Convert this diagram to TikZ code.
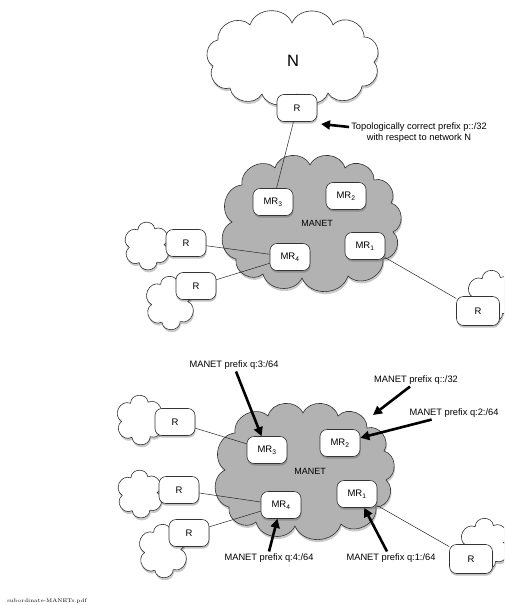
\documentclass[tikz,border=0pt]{standalone}
\usepackage{fontspec}
\newfontfamily\arial{Liberation Sans}
\usetikzlibrary{shadows,arrows.meta,calc}
\tikzset{
  box/.style={draw=black!80, fill=white, rounded corners=7pt, minimum width=40pt, minimum height=27pt, inner sep=0pt,
    font=\arial\fontsize{9.5}{10}\selectfont, line width=0.6pt,
    drop shadow={shadow xshift=0.6pt, shadow yshift=-2.2pt, opacity=0.35, fill=black!70}},
  link/.style={draw=black!85, line width=0.5pt},
  bigarrow/.style={line width=2.6pt, -{Triangle[length=9pt,width=9pt]}},
  anno/.style={font=\arial\fontsize{9.3}{10.5}\selectfont, inner sep=0pt},
  whitecloud/.style={draw=black!80, line width=0.6pt, fill=white,
    drop shadow={shadow xshift=0.8pt, shadow yshift=-2.5pt, opacity=0.3, fill=black!70}},
  graycloud/.style={draw=black!80, line width=0.6pt, fill=black!30,
    drop shadow={shadow xshift=0.8pt, shadow yshift=-2.5pt, opacity=0.3, fill=black!70}},
  puff/.style={bend left=70, looseness=1.15},
  spuff/.style={bend left=85, looseness=1.45}
}
\newcommand\mycloud[4]{%
 \path[whitecloud] ({#1-0.35*#3},{#2-0.62*#4}) to[spuff] ({#1+0.30*#3},{#2-0.66*#4})
  to[spuff] ({#1+0.66*#3},{#2-0.05*#4}) to[spuff] ({#1+0.38*#3},{#2+0.62*#4})
  to[spuff] ({#1-0.30*#3},{#2+0.64*#4}) to[spuff] ({#1-0.68*#3},{#2+0.05*#4})
  to[spuff] ({#1-0.35*#3},{#2-0.62*#4}) -- cycle;}
\newcommand\manetcloud{%
 \path[graycloud] (242,185) to[puff] (275,168) to[puff] (310,165) to[puff] (345,168) to[puff] (374,180)
  to[puff] (391,203) to[puff] (393,232) to[puff] (383,259) to[puff] (348,276) to[puff] (302,278)
  to[puff] (263,274) to[puff] (236,259) to[puff] (232,222) to[puff] (242,185) -- cycle;}
\begin{document}
\begin{tikzpicture}[x=1pt,y=-1pt]
\useasboundingbox (0,0) rectangle (504,605);
\clip (0,0) rectangle (504,605);
% ---------- top half ----------
\path[whitecloud] (218,40) to[puff] (250,25) to[puff] (292,23) to[puff] (333,25) to[puff] (364,37)
  to[puff] (374,62) to[puff] (362,86) to[puff] (328,93) to[puff] (297,94) to[puff] (262,94)
  to[puff] (230,88) to[puff] (213,66) to[puff] (218,40) -- cycle;
\node[font=\arial\fontsize{16.5}{18}\selectfont] (nlabel) at (293,61) {N};
\manetcloud
\mycloud{147}{246}{26}{26}
\mycloud{170}{303}{27}{30}
\mycloud{492}{296}{28}{28}
\node[font=\arial\fontsize{9}{10}\selectfont] (manet) at (317,223) {MANET};
\node[box] (rN) at (297,108) {R};
\node[box] (mr3) at (273,202) {MR\textsubscript{3}};
\node[box] (mr2) at (346,196) {MR\textsubscript{2}};
\node[box] (mr1) at (365,246) {MR\textsubscript{1}};
\node[box] (mr4) at (290,257) {MR\textsubscript{4}};
\node[box] (r1) at (186,243) {R};
\node[box] (r2) at (196,286) {R};
\node[box, minimum width=43pt, minimum height=29pt] (rr) at (478,311) {R};
\draw[link] (rN) -- (mr3);
\draw[link] (r1) -- (mr4);
\draw[link] (r2) -- (mr4);
\draw[link] (mr1) -- (rr);
\node[anno] (topo1) at (419,127) {Topologically correct prefix p::/32};
\node[anno] (topo2) at (419,138) {with respect to network N};
\coordinate (pN) at (321,124);
\draw[bigarrow] ($(topo1.west)+(-2,0)$) -- (pN);
% ---------- bottom half ----------
\begin{scope}[shift={(-7,248)}]
\manetcloud
\end{scope}
\mycloud{140}{420}{27}{27}
\mycloud{140}{494}{26}{26}
\mycloud{163}{551}{27}{30}
\mycloud{485}{544}{28}{28}
\node[font=\arial\fontsize{9}{10}\selectfont] (manetb) at (310,471) {MANET};
\node[box] (r0) at (175,422) {R};
\node[box] (mr3b) at (267,450) {MR\textsubscript{3}};
\node[box] (mr2b) at (340,443) {MR\textsubscript{2}};
\node[box] (mr1b) at (357,494) {MR\textsubscript{1}};
\node[box] (mr4b) at (281,505) {MR\textsubscript{4}};
\node[box] (r1b) at (179,490) {R};
\node[box] (r2b) at (189,533) {R};
\node[box, minimum width=43pt, minimum height=29pt] (rrb) at (471,559) {R};
\draw[link] (r0) -- (mr3b);
\draw[link] (r1b) -- (mr4b);
\draw[link] (r2b) -- (mr4b);
\draw[link] (mr1b) -- (rrb);
\node[anno] (t3) at (234,365) {MANET prefix q:3:/64};
\node[anno] (t32) at (416,380) {MANET prefix q::/32};
\node[anno] (t2) at (454,413) {MANET prefix q:2:/64};
\node[anno] (t4) at (269,558) {MANET prefix q:4:/64};
\node[anno] (t1) at (391,558) {MANET prefix q:1:/64};
\coordinate (cedge) at (373,415);
\draw[bigarrow] ($(t3.south)+(2,2)$) -- (mr3b);
\draw[bigarrow] ($(t32.south)+(-6,2)$) -- (cedge);
\draw[bigarrow] ($(t2.south west)!0.25!(t2.south east)+(0,2)$) -- (mr2b);
\draw[bigarrow] ($(t4.north)+(0,-2)$) -- (mr4b);
\draw[bigarrow] ($(t1.north)+(-4,-2)$) -- (mr1b);
\node[font=\fontsize{5.2}{6}\selectfont, inner sep=0pt] (fname) at (47,601) {subordinate-MANETs.pdf};
\end{tikzpicture}
\end{document}
